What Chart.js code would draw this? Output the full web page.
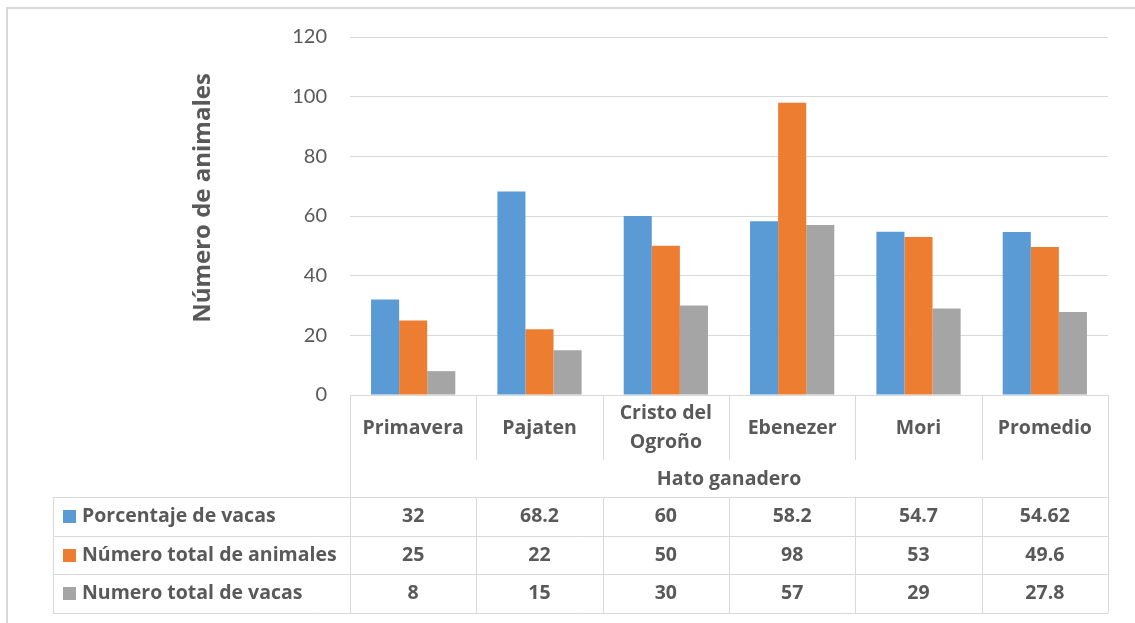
<!DOCTYPE html>
<html>
<head>
<meta charset="utf-8">
<script src="https://cdn.jsdelivr.net/npm/chart.js@4/dist/chart.umd.min.js"></script>
<style>
  html, body { margin: 0; padding: 0; background: #fff; }
  #wrap { width: 1135px; height: 623px; }
</style>
</head>
<body>
<div id="wrap"><canvas id="chart"></canvas></div>
<script>
// Datos
const categories = [['Primavera'], ['Pajaten'], ['Cristo del', 'Ogroño'], ['Ebenezer'], ['Mori'], ['Promedio']];
const seriesNames = ['Porcentaje de vacas', 'Número total de animales', 'Numero total de vacas'];
const porcentajeVacas = [32, 68.2, 60, 58.2, 54.7, 54.62];
const totalAnimales = [25, 22, 50, 98, 53, 49.6];
const totalVacas = [8, 15, 30, 57, 29, 27.8];
const yTicks = [0, 20, 40, 60, 80, 100, 120];
const colors = ['#5B9BD5', '#ED7D31', '#A5A5A5'];

const seriesValues = [porcentajeVacas, totalAnimales, totalVacas];
const textColor = '#595959';
const lineColor = '#d9d9d9';
const tickFont = 'Lato, "Open Sans", sans-serif';
const labelFont = '"Open Sans", Lato, sans-serif';

// Tabla de datos estilo Excel debajo del eje
const tablePlugin = {
    id: 'dataTable',
    afterDraw(chart) {
        const ctx = chart.ctx;
        const a = chart.chartArea;
        const xs = chart.scales.x;
        const n = categories.length;
        const centers = categories.map((c, i) => xs.getPixelForValue(i));
        const edges = [a.left];
        for (let i = 1; i < n; i++) edges.push((centers[i - 1] + centers[i]) / 2);
        edges.push(a.right);

        const labelBottom = 460;
        const tableTop = 497;
        const rowH = 38.7;
        const tableBottom = tableTop + rowH * 3;
        const legendLeft = 53;
        const px = v => Math.round(v) + 0.5;

        ctx.save();
        // marco exterior
        ctx.strokeStyle = lineColor;
        ctx.lineWidth = 2;
        ctx.strokeRect(7, 8, 1200, 700);

        ctx.lineWidth = 1;
        ctx.beginPath();
        // línea del eje
        ctx.moveTo(a.left, px(a.bottom)); ctx.lineTo(a.right, px(a.bottom));
        // bordes izquierdo / derecho de la zona de categorías
        ctx.moveTo(px(a.left), a.bottom); ctx.lineTo(px(a.left), tableBottom);
        ctx.moveTo(px(a.right), a.bottom); ctx.lineTo(px(a.right), tableBottom);
        // separadores de categorías
        for (let i = 1; i < n; i++) {
            ctx.moveTo(px(edges[i]), a.bottom); ctx.lineTo(px(edges[i]), labelBottom);
            ctx.moveTo(px(edges[i]), tableTop); ctx.lineTo(px(edges[i]), tableBottom);
        }
        // filas
        for (let r = 0; r <= 3; r++) {
            const y = px(tableTop + rowH * r);
            ctx.moveTo(legendLeft, y); ctx.lineTo(a.right, y);
        }
        ctx.moveTo(px(legendLeft), tableTop); ctx.lineTo(px(legendLeft), tableBottom);
        ctx.stroke();

        ctx.fillStyle = textColor;
        ctx.textAlign = 'center';
        ctx.textBaseline = 'middle';
        ctx.font = 'bold 19.5px ' + labelFont;
        // etiquetas de categorías
        categories.forEach((lines, i) => {
            const lh = 29;
            const y0 = 428 - (lines.length - 1) * lh / 2;
            lines.forEach((t, j) => ctx.fillText(t, centers[i], y0 + j * lh));
        });
        // título del eje x
        ctx.fillText('Hato ganadero', (a.left + a.right) / 2, 479);

        // valores
        seriesValues.forEach((vals, r) => {
            const y = tableTop + rowH * r + rowH / 2;
            vals.forEach((v, i) => ctx.fillText(String(v), centers[i], y));
            // clave de leyenda
            ctx.fillStyle = colors[r];
            ctx.fillRect(63, Math.round(y - 6.5), 13, 13);
            ctx.fillStyle = textColor;
            ctx.textAlign = 'left';
            ctx.fillText(seriesNames[r], 82, y);
            ctx.textAlign = 'center';
        });

        // título del eje y
        ctx.save();
        ctx.translate(203, 198);
        ctx.rotate(-Math.PI / 2);
        ctx.font = 'bold 24px ' + labelFont;
        ctx.fillText('Número de animales', 0, 0);
        ctx.restore();

        ctx.restore();
    }
};

new Chart(document.getElementById('chart'), {
    type: 'bar',
    data: {
        labels: categories,
        datasets: seriesNames.map((name, i) => ({
            label: name,
            data: seriesValues[i],
            backgroundColor: colors[i],
            borderWidth: 0,
            categoryPercentage: 0.667,
            barPercentage: 1
        }))
    },
    options: {
        responsive: true,
        maintainAspectRatio: false,
        animation: false,
        layout: { padding: { left: 0, top: 37, right: 27, bottom: 228 } },
        plugins: {
            legend: { display: false },
            tooltip: { enabled: false }
        },
        scales: {
            x: { display: false },
            y: {
                min: 0,
                max: 120,
                afterFit(scale) { scale.width = 350; },
                afterBuildTicks(scale) { scale.ticks = yTicks.map(v => ({ value: v })); },
                border: { display: false },
                grid: { color: lineColor, drawTicks: false },
                ticks: {
                    padding: 23,
                    color: textColor,
                    font: { family: tickFont, size: 20 }
                }
            }
        }
    },
    plugins: [tablePlugin]
});
</script>
</body>
</html>
